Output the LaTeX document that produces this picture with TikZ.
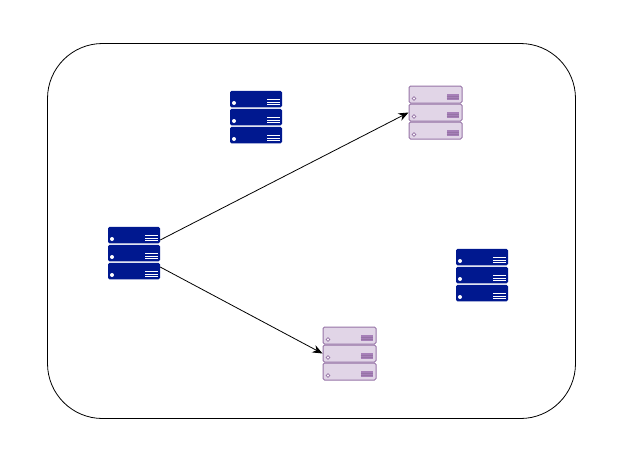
\documentclass[tikz,border=0pt]{standalone}
\usepackage{xcolor}
\usetikzlibrary{arrows.meta}
\definecolor{srvblue}{RGB}{0,24,143}
\definecolor{srvpurple}{RGB}{225,213,231}
\definecolor{srvedge}{RGB}{150,115,166}
\definecolor{srvvent}{RGB}{166,128,184}

% one rack of three units, #1 = name, #2,#3 = top left corner
\newcommand{\bluerack}[3]{
  \foreach \i/\dy in {1/0,2/18,3/36} {
    \node[unitB] (#1\i) at (#2+26,#3+8+\dy) {};
    \fill[white] (#2+4,#3+12+\dy) circle (2);
    \foreach \v in {8.5,11,13.5}
      \draw[white, line width=1pt] (#2+37,#3+\v+\dy)--(#2+49.5,#3+\v+\dy);
  }
}
\newcommand{\purplerack}[3]{
  \foreach \i/\dy in {1/0,2/18,3/36} {
    \node[unitP] (#1\i) at (#2+26.5,#3+8.5+\dy) {};
    \draw[srvedge, fill=white, line width=0.8pt] (#2+5,#3+12.5+\dy) circle (1.9);
    \fill[srvvent] (#2+37.5,#3+8+\dy) rectangle (#2+50,#3+14+\dy);
    \foreach \v in {10,12}
      \draw[srvedge, line width=0.4pt] (#2+37.5,#3+\v+\dy)--(#2+50,#3+\v+\dy);
  }
}

\begin{document}
\begin{tikzpicture}[x=1pt, y=-1pt,
  >={Stealth[length=10pt, width=8pt]},
  unitB/.style={rectangle, rounded corners=1.5pt, minimum width=52pt, minimum height=16.5pt, inner sep=0pt, fill=srvblue},
  unitP/.style={rectangle, rounded corners=1.5pt, minimum width=53pt, minimum height=17pt, inner sep=0pt, fill=srvpurple, draw=srvedge, line width=1pt},
  link/.style={->, black, line width=0.8pt}]

\useasboundingbox (0,0) rectangle (618,467);

\draw[black, line width=0.8pt, rounded corners=55pt] (47.5,43.5) rectangle (575.5,418.5);

\bluerack{srvA}{108}{227}
\bluerack{srvB}{230}{91}
\bluerack{srvC}{456}{249}
\purplerack{srvD}{409}{86}
\purplerack{srvE}{323}{327}

\draw[link] ([yshift=-5pt]srvA1.east)--(srvD2.west);
\draw[link] ([yshift=4pt]srvA3.east)--(srvE2.west);

\end{tikzpicture}
\end{document}
